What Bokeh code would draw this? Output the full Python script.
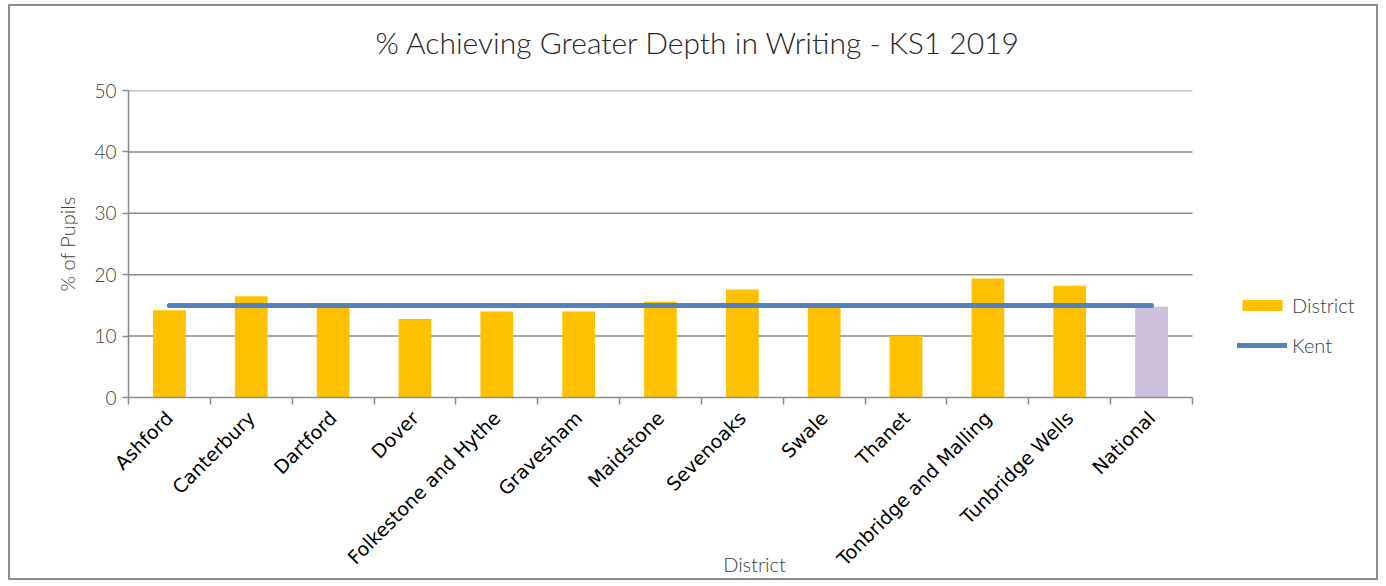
import math
from bokeh.plotting import figure
from bokeh.models import ColumnDataSource, FixedTicker, Legend, LegendItem, Range1d, Title
from bokeh.embed import file_html
from bokeh.resources import INLINE

# ---- data ----
categories = ["Ashford", "Canterbury", "Dartford", "Dover", "Folkestone and Hythe",
              "Gravesham", "Maidstone", "Sevenoaks", "Swale", "Thanet",
              "Tonbridge and Malling", "Tunbridge Wells", "National"]
district_values = [14.2, 16.5, 15.0, 12.8, 14.0, 14.0, 15.6, 17.6, 14.8, 10.0, 19.4, 18.2]
national_value = [14.8]
kent_values = [15.0, 15.0, 15.0, 15.0, 15.0, 15.0, 15.0, 15.0, 15.0, 15.0, 15.0, 15.0, 15.0]
y_ticks = [0, 10, 20, 30, 40, 50]

title_text = "% Achieving Greater Depth in Writing - KS1 2019"
y_label = "% of Pupils"
x_label = "District"

# ---- layout numbers ----
n = len(categories)
centers = [i + 0.5 for i in range(n)]
district_x = centers[:len(district_values)]
national_x = centers[len(district_values):]

W, H = 1370, 576
LEFT, TOP, BOTTOM = 118, 84, 185
PLOT_W = 1064                     # width taken by the 13 categories
FRAME_W = W - LEFT                # frame runs to the right edge (legend lives there)
x_end = n * FRAME_W / PLOT_W

GRID = "#8c8c8c"
THIN = "Lato Light"

p = figure(width=W, height=H,
           x_range=Range1d(0, x_end), y_range=Range1d(0, 50),
           output_backend="svg", toolbar_location=None,
           min_border_left=LEFT, min_border_right=0,
           min_border_top=TOP, min_border_bottom=BOTTOM)
p.styles = {"border": "2px solid #8c8c8c", "margin-left": "8px", "margin-top": "4px"}
p.outline_line_color = None
p.background_fill_color = "white"
p.border_fill_color = "white"

# main title (outermost) and a thin spacer title nearer the frame
p.title.text = title_text
p.title.text_font = THIN
p.title.text_font_size = "30px"
p.title.text_font_style = "normal"
p.title.text_color = "#262626"
p.title.align = "left"
p.title.offset = 247
p.title.standoff = 10
spacer = Title(text=" ", text_font_size="1px", standoff=23)
p.add_layout(spacer, "above")

# grid lines (only across the category area)
k = len(y_ticks) - 1
src_g = ColumnDataSource(dict(x0=[0] * k, x1=[n] * k, y=y_ticks[1:]))
p.segment(x0="x0", x1="x1", y0="y", y1="y", source=src_g,
          line_color=GRID, line_width=1.5, level="underlay")
p.xgrid.visible = False
p.ygrid.visible = False

# bars
src_d = ColumnDataSource(dict(x=district_x, top=district_values))
bars = p.vbar(x="x", top="top", width=0.4, source=src_d,
              fill_color="#FFC000", line_color=None)
src_n = ColumnDataSource(dict(x=national_x, top=national_value))
p.vbar(x="x", top="top", width=0.4, source=src_n,
       fill_color="#CCC0DA", line_color=None)

# Kent line
src_k = ColumnDataSource(dict(x=centers, y=kent_values))
kent = p.line(x="x", y="y", source=src_k, line_width=5, line_color="#4F81BD",
              line_cap="round")

# y axis
ya = p.yaxis[0]
ya.ticker = FixedTicker(ticks=y_ticks)
ya.axis_line_color = GRID
ya.axis_line_width = 1.5
ya.major_tick_line_color = GRID
ya.major_tick_line_width = 1.5
ya.major_tick_out = 6
ya.major_tick_in = 0
ya.minor_tick_line_color = None
ya.major_label_text_font = THIN
ya.major_label_text_font_size = "19px"
ya.major_label_text_color = "#404040"
ya.major_label_standoff = 6
ya.axis_label = y_label
ya.axis_label_text_font = THIN
ya.axis_label_text_font_size = "20px"
ya.axis_label_text_font_style = "normal"
ya.axis_label_text_color = "#404040"
ya.axis_label_standoff = 12

# x axis
xa = p.xaxis[0]
xa.bounds = (0, n)
xa.ticker = FixedTicker(ticks=centers, minor_ticks=list(range(n + 1)))
xa.major_label_overrides = {c: lab for c, lab in zip(centers, categories)}
xa.axis_line_color = GRID
xa.axis_line_width = 1.5
xa.major_tick_out = 0
xa.major_tick_in = 0
xa.minor_tick_out = 7
xa.minor_tick_in = 0
xa.minor_tick_line_color = GRID
xa.minor_tick_line_width = 1.5
xa.major_label_orientation = math.pi / 4
xa.major_label_text_font = "DejaVu Sans"
xa.major_label_text_font_size = "19px"
xa.major_label_text_color = "black"
xa.major_label_standoff = 10
xa.axis_label = x_label
xa.axis_label_text_font = THIN
xa.axis_label_text_font_size = "20px"
xa.axis_label_text_font_style = "normal"
xa.axis_label_text_color = "#404040"
xa.axis_label_standoff = -29

# legend, to the right of the category area
legend = Legend(items=[LegendItem(label="District", renderers=[bars]),
                       LegendItem(label="Kent", renderers=[kent])],
                location=(1109, 40),
                orientation="vertical",
                background_fill_alpha=0, border_line_color=None,
                padding=0, margin=0, spacing=16,
                glyph_width=50, glyph_height=14, label_height=20,
                label_standoff=5,
                label_text_font=THIN, label_text_font_size="20px",
                label_text_color="#404040")
p.add_layout(legend)

open("out.html", "w").write(file_html(p, INLINE))
